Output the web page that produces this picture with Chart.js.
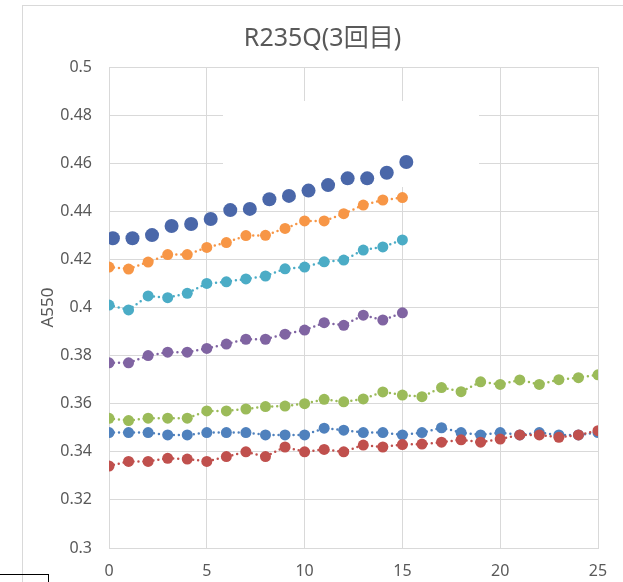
<!DOCTYPE html>
<html>
<head>
<meta charset="utf-8">
<script src="https://cdn.jsdelivr.net/npm/chart.js@4/dist/chart.umd.min.js"></script>
<style>
  html, body { margin: 0; padding: 0; background: #fff; }
  #wrap { width: 623px; height: 582px; }
</style>
</head>
<body>
<div id="wrap"><canvas id="chart" width="623" height="582"></canvas></div>
<script>
const chartTitle = 'R235Q(3回目)';
const yAxisTitle = 'A550';
const xTickValues = [0, 5, 10, 15, 20, 25];
const yTickValues = [0.3, 0.32, 0.34, 0.36, 0.38, 0.4, 0.42, 0.44, 0.46, 0.48, 0.5];

// x positions for the long runs and the short ones
const xLong = [0, 1, 2, 3, 4, 5, 6, 7, 8, 9, 10, 11, 12, 13, 14, 15, 16, 17, 18, 19, 20, 21, 22, 23, 24, 25];
const xShort = [0, 1, 2, 3, 4, 5, 6, 7, 8, 9, 10, 11, 12, 13, 14, 15];
// the big dark-blue markers sit a little to the right of the others
const xDark = [0.2, 1.2, 2.2, 3.2, 4.2, 5.2, 6.2, 7.2, 8.2, 9.2, 10.2, 11.2, 12.2, 13.2, 14.2, 15.2];

const darkBlueVals = [0.4288, 0.4288, 0.4301, 0.4339, 0.4347, 0.4368, 0.4405, 0.4410, 0.4450, 0.4464, 0.4486, 0.4509, 0.4537, 0.4537, 0.4560, 0.4605];
const orangeVals = [0.4168, 0.4160, 0.4189, 0.4220, 0.4220, 0.4250, 0.4270, 0.4299, 0.4300, 0.4329, 0.4360, 0.4360, 0.4390, 0.4426, 0.4447, 0.4457];
const tealVals = [0.4010, 0.3990, 0.4048, 0.4041, 0.4059, 0.4100, 0.4107, 0.4119, 0.4131, 0.4161, 0.4168, 0.4190, 0.4197, 0.4239, 0.4252, 0.4281];
const purpleVals = [0.3770, 0.3770, 0.3800, 0.3814, 0.3814, 0.3830, 0.3848, 0.3868, 0.3868, 0.3889, 0.3906, 0.3937, 0.3926, 0.3968, 0.3948, 0.3978];
const greenVals = [0.3539, 0.3530, 0.3540, 0.3540, 0.3540, 0.3570, 0.3570, 0.3578, 0.3588, 0.3590, 0.3600, 0.3618, 0.3608, 0.3620, 0.3649, 0.3636, 0.3629, 0.3667, 0.3650, 0.3691, 0.3680, 0.3699, 0.3680, 0.3700, 0.3708, 0.3720];
const blueVals = [0.3480, 0.3480, 0.3480, 0.3470, 0.3470, 0.3480, 0.3480, 0.3480, 0.3470, 0.3470, 0.3470, 0.3498, 0.3490, 0.3480, 0.3480, 0.3470, 0.3480, 0.3500, 0.3480, 0.3470, 0.3480, 0.3470, 0.3480, 0.3470, 0.3470, 0.3480];
const redVals = [0.3341, 0.3360, 0.3360, 0.3373, 0.3370, 0.3360, 0.3380, 0.3400, 0.3380, 0.3420, 0.3400, 0.3410, 0.3400, 0.3428, 0.3420, 0.3430, 0.3432, 0.3440, 0.3450, 0.3440, 0.3453, 0.3470, 0.3470, 0.3460, 0.3470, 0.3488];

const textColor = '#595959';
const gridColor = '#d9d9d9';
const fontFamily = '"Noto Sans", "Noto Sans CJK JP", sans-serif';

function toPoints(xs, ys) {
    return ys.map((y, i) => ({ x: xs[i], y: y }));
}

function dottedSeries(xs, ys, color) {
    return {
        data: toPoints(xs, ys),
        showLine: true,
        borderColor: color,
        borderWidth: 2.5,
        borderDash: [0, 5],
        borderCapStyle: 'round',
        backgroundColor: color,
        pointBackgroundColor: color,
        pointBorderWidth: 0,
        pointRadius: 5.5
    };
}

// frame around the chart, the white patch over the top grid and the stray box
const decorPlugin = {
    id: 'decor',
    beforeDraw(chart) {
        const c = chart.ctx;
        c.save();
        c.strokeStyle = gridColor;
        c.lineWidth = 1;
        c.strokeRect(22.5, 5.5, 640, 640);
        c.restore();
    },
    beforeDatasetsDraw(chart) {
        const c = chart.ctx;
        c.save();
        c.fillStyle = '#ffffff';
        c.fillRect(223, 101, 256, 86);
        c.restore();
    },
    afterDraw(chart) {
        const c = chart.ctx;
        c.save();
        c.strokeStyle = '#000000';
        c.lineWidth = 1;
        c.strokeRect(-1, 574.5, 49.5, 20);
        c.restore();
    }
};

const ctx = document.getElementById('chart');
const chart = new Chart(ctx, {
    type: 'scatter',
    data: {
        datasets: [
            dottedSeries(xLong, redVals, '#C0504D'),
            dottedSeries(xLong, blueVals, '#4F81BD'),
            dottedSeries(xLong, greenVals, '#9BBB59'),
            dottedSeries(xShort, purpleVals, '#8064A2'),
            dottedSeries(xShort, tealVals, '#4BACC6'),
            dottedSeries(xShort, orangeVals, '#F79646'),
            {
                data: toPoints(xDark, darkBlueVals),
                showLine: false,
                backgroundColor: '#4A67A9',
                pointBackgroundColor: '#4A67A9',
                pointBorderWidth: 0,
                pointRadius: 7
            }
        ]
    },
    options: {
        responsive: false,
        animation: false,
        layout: { padding: { left: 22, right: 0, top: 0, bottom: 0 } },
        plugins: {
            legend: { display: false },
            tooltip: { enabled: false },
            title: {
                display: true,
                text: chartTitle,
                color: textColor,
                font: { family: fontFamily, size: 25, weight: 'normal' },
                padding: { top: 24, bottom: 13 }
            }
        },
        scales: {
            x: {
                type: 'linear',
                min: 0,
                max: 25,
                afterBuildTicks: (scale) => { scale.ticks = xTickValues.map(v => ({ value: v })); },
                afterFit: (scale) => { scale.height = 34; scale.paddingRight = 25; },
                ticks: {
                    color: textColor,
                    padding: 14,
                    font: { family: fontFamily, size: 16 },
                    callback: (v) => String(v)
                },
                grid: { color: gridColor, drawTicks: false },
                border: { color: gridColor }
            },
            y: {
                type: 'linear',
                min: 0.3,
                max: 0.5,
                afterBuildTicks: (scale) => { scale.ticks = yTickValues.map(v => ({ value: v })); },
                afterFit: (scale) => { scale.width = 87; },
                ticks: {
                    color: textColor,
                    padding: 17,
                    font: { family: fontFamily, size: 16 },
                    callback: (v) => String(Number(v.toFixed(2)))
                },
                grid: { color: gridColor, drawTicks: false },
                border: { color: gridColor },
                title: {
                    display: true,
                    text: yAxisTitle,
                    color: textColor,
                    font: { family: fontFamily, size: 17 },
                    padding: { top: 16, bottom: 0 }
                }
            }
        }
    },
    plugins: [decorPlugin]
});
</script>
</body>
</html>
